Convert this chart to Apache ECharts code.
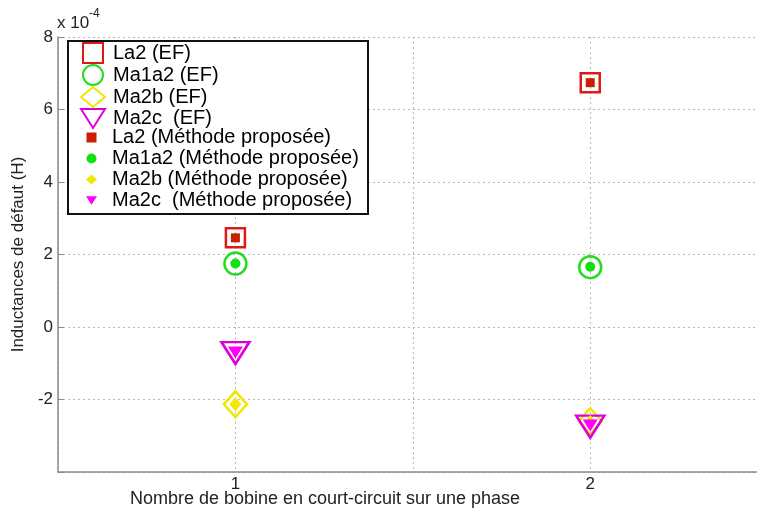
<!DOCTYPE html>
<html><head><meta charset="utf-8">
<script src="https://cdn.jsdelivr.net/npm/echarts@6/dist/echarts.min.js"></script>
<style>html,body{margin:0;padding:0;background:#fff}#c{width:757px;height:510px}</style>
</head><body><div id="c"></div>
<script>
// x positions (number of short-circuited coils)
const xPositions = [1, 2];
// values in units of 1e-4 H
const la2EF = [2.46, 6.74];
const ma1a2EF = [1.75, 1.65];
const ma2bEF = [-2.13, -2.60];
const ma2cEF = [-0.72, -2.75];
const la2MP = [2.46, 6.74];
const ma1a2MP = [1.75, 1.66];
const ma2bMP = [-2.13, -2.62];
const ma2cMP = [-0.70, -2.72];
const yTicks = [-4, -2, 0, 2, 4, 6, 8];
const xTickLabels = {1: '1', 2: '2'};

const namesEF = ['La2 (EF)', 'Ma1a2 (EF)', 'Ma2b (EF)', 'Ma2c  (EF)'];
const namesMP = ['La2 (Méthode proposée)', 'Ma1a2 (Méthode proposée)', 'Ma2b (Méthode proposée)', 'Ma2c  (Méthode proposée)'];

const pts = arr => xPositions.map((x, i) => [x, arr[i]]);
const FONT = '"Liberation Sans", Arial, sans-serif';
const TRI = 'path://M0,0L28,0L14,22Z';
const SQ = 'path://M0,0L20,0L20,20L0,20Z';

function ef(name, data, symbol, size, color) {
  return {type: 'scatter', name, data: pts(data), symbol, symbolSize: size, symbolKeepAspect: symbol === SQ,
    itemStyle: {color: 'rgba(255,255,255,0)', borderColor: color, borderWidth: 2.5, opacity: 1}, z: 2};
}
function mp(name, data, symbol, size, color) {
  return {type: 'scatter', name, data: pts(data), symbol, symbolSize: size, symbolKeepAspect: symbol === SQ,
    itemStyle: {color: color, borderWidth: 0, opacity: 1}, z: 3};
}

const chart = echarts.init(document.getElementById('c'), null, {renderer: 'canvas'});
const legendText = {fontFamily: FONT, fontSize: 20, color: '#000', lineHeight: 21};
chart.setOption({
  animation: false,
  backgroundColor: '#fff',
  grid: {left: 58, top: 37, right: 0, bottom: 38, containLabel: false, outerBoundsMode: 'none'},
  xAxis: {
    type: 'value', min: 0.5, max: 2.47, interval: 0.5,
    axisLine: {show: true, onZero: false, lineStyle: {color: '#8a8a8a', width: 1.5}},
    axisTick: {show: false},
    axisLabel: {margin: 4, fontFamily: FONT, fontSize: 17, color: '#222',
      formatter: v => xTickLabels[v] || ''},
    splitLine: {show: true, lineStyle: {color: '#b8b8b8', type: [2, 3], width: 1}}
  },
  yAxis: {
    type: 'value', min: yTicks[0], max: yTicks[yTicks.length - 1], interval: 2,
    name: 'Inductances de défaut (H)', nameLocation: 'middle', nameGap: 26,
    nameTextStyle: {fontFamily: FONT, fontSize: 17, color: '#222'},
    axisLine: {show: true, onZero: false, lineStyle: {color: '#8a8a8a', width: 1.5}},
    axisTick: {show: true, inside: true, length: 6, lineStyle: {color: '#8a8a8a'}},
    axisLabel: {margin: 5, fontFamily: FONT, fontSize: 17, color: '#222',
      formatter: v => (v === yTicks[0] ? '' : String(v))},
    splitLine: {show: true, lineStyle: {color: '#b8b8b8', type: [2, 3], width: 1}}
  },
  legend: [
    {data: namesEF, orient: 'vertical', left: 80, top: 42, padding: 0, itemGap: 0,
      itemWidth: 24, itemHeight: 20, textStyle: Object.assign({padding: [0, 0, 0, 3]}, legendText),
      selectedMode: false, z: 10},
    {data: namesMP, orient: 'vertical', left: 86, top: 127, padding: 0, itemGap: 0,
      itemWidth: 11, itemHeight: 10, textStyle: Object.assign({padding: [0, 0, 0, 10]}, legendText),
      selectedMode: false, z: 10}
  ],
  graphic: [
    {type: 'rect', left: 67, top: 40, z: 5, shape: {width: 300, height: 173},
      style: {fill: '#fff', stroke: '#111', lineWidth: 2}},
    {type: 'text', left: 57, top: 15, z: 5, style: {text: 'x 10', font: '17px ' + FONT, fill: '#222'}},
    {type: 'text', left: 89, top: 8, z: 5, style: {text: '-4', font: '12px ' + FONT, fill: '#222'}},
    {type: 'text', x: 325, y: 499, z: 5, style: {text: 'Nombre de bobine en court-circuit sur une phase',
      font: '18px ' + FONT, fill: '#222', align: 'center', verticalAlign: 'middle'}}
  ],
  series: [
    ef(namesEF[0], la2EF, SQ, 19, '#e01818'),
    ef(namesEF[1], ma1a2EF, 'circle', 22, '#22dd22'),
    ef(namesEF[2], ma2bEF, 'diamond', [23, 26], '#f2e600'),
    ef(namesEF[3], ma2cEF, TRI, [28, 22], '#dd00dd'),
    mp(namesMP[0], la2MP, SQ, 9, '#c82000'),
    mp(namesMP[1], ma1a2MP, 'circle', 10, '#11e011'),
    mp(namesMP[2], ma2bMP, 'diamond', [12, 14], '#f5e800'),
    mp(namesMP[3], ma2cMP, TRI, [15, 12], '#ff00ff')
  ]
});
</script></body></html>
